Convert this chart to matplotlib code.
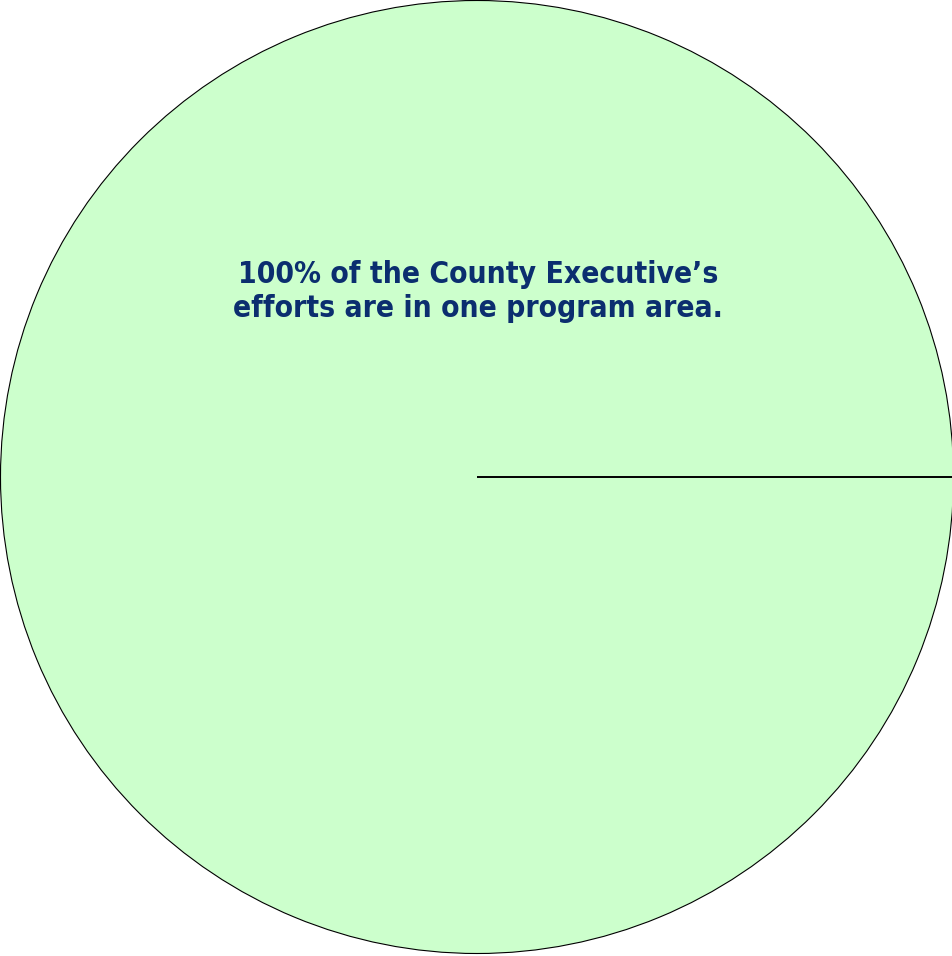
import matplotlib
matplotlib.use("agg")
import matplotlib.pyplot as plt

# one program area carries all of the effort
areas = ["County Executive"]
shares = [100]
caption = "100% of the County Executive\u2019s\nefforts are in one program area."

fill_color = "#CCFFCC"
text_color = "#0B2E6F"

fig = plt.figure(figsize=(9.53, 9.56), dpi=100)
ax = fig.add_axes([0, 0, 1, 1])
ax.axis("off")

wedges, _ = ax.pie(shares, labels=None, colors=[fill_color], startangle=0,
                   counterclock=True, radius=1.0,
                   wedgeprops=dict(edgecolor="black", linewidth=0.8))

# the slice boundary at 0 degrees
w = wedges[0]
cx, cy = w.center
ax.plot([cx, cx + w.r], [cy, cy], color="black", lw=1.4, solid_capstyle="butt")

# place the circle: centre at (477, 477) px from top-left, radius 476.5 px
scale = 476.5
ax.set_xlim(-477 / scale, (953 - 477) / scale)
ax.set_ylim(-479 / scale, (956 - 479) / scale)
ax.set_aspect("auto")

ax.text(0.003, 0.39, caption, ha="center", va="center", color=text_color,
        fontsize=21.5, fontweight="bold", family="DejaVu Sans",
        fontstretch="condensed", linespacing=1.23)

fig.savefig("out.png", dpi=100)
